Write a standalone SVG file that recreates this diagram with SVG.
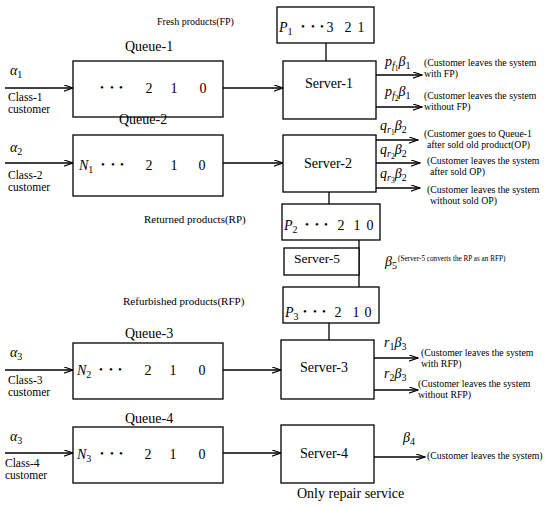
<svg xmlns="http://www.w3.org/2000/svg" width="550" height="507" viewBox="0 0 550 507">
<defs>
<style>
text{font-family:"Liberation Serif","Times New Roman",serif;fill:#000}
.box{fill:#fff;stroke:#000;stroke-width:1.3}
.ln{fill:none;stroke:#000;stroke-width:1.3}
.ar{fill:none;stroke:#000;stroke-width:1.3;marker-end:url(#ah)}
.ttl{font-size:14px}
.srv{font-size:14px;text-anchor:middle}
.num{font-size:14px;text-anchor:middle}
.dot{font-size:11px;text-anchor:middle}
.cls{font-size:11.5px}
.lbl{font-size:11px}
.note{font-size:9.8px}
.m{font-size:14px;font-style:italic}
.s{font-size:10px;font-style:normal}
.si{font-size:10px;font-style:italic}
.ss{font-size:7.5px;font-style:normal}
</style>
<marker id="ah" viewBox="0 0 10 7" markerWidth="10" markerHeight="7" refX="9.5" refY="3.5" orient="auto" markerUnits="userSpaceOnUse">
<path d="M0,0.3 L9.5,3.5 L0,6.7" fill="none" stroke="#000" stroke-width="1.2"/>
</marker>
</defs>
<rect x="0" y="0" width="550" height="507" fill="#fff"/>

<g id="connectors">
<line class="ar" x1="5" y1="88" x2="73" y2="88"/>
<line class="ar" x1="223" y1="88" x2="283" y2="88"/>
<line class="ln" x1="326" y1="43" x2="326" y2="61"/>
<line class="ar" x1="376" y1="75" x2="422" y2="75"/>
<line class="ar" x1="376" y1="107" x2="422" y2="107"/>
<line class="ar" x1="5" y1="163" x2="73" y2="163"/>
<line class="ar" x1="223" y1="163" x2="283" y2="163"/>
<line class="ar" x1="376" y1="140" x2="418" y2="140"/>
<line class="ar" x1="376" y1="163" x2="420" y2="163"/>
<line class="ar" x1="376" y1="188" x2="420" y2="188"/>
<line class="ln" x1="329" y1="192" x2="329" y2="204"/>
<line class="ln" x1="359" y1="237" x2="359" y2="287"/>
<line class="ln" x1="329" y1="323" x2="329" y2="340"/>
<line class="ar" x1="5" y1="370" x2="73" y2="370"/>
<line class="ar" x1="223" y1="370" x2="281" y2="370"/>
<line class="ar" x1="374" y1="358" x2="418" y2="358"/>
<line class="ar" x1="374" y1="390" x2="418" y2="390"/>
<line class="ar" x1="5" y1="453" x2="73" y2="453"/>
<line class="ar" x1="223" y1="453" x2="281" y2="453"/>
<line class="ar" x1="374" y1="457" x2="425" y2="457"/>
</g>

<g id="fp-store">
<rect class="box" x="277" y="7" width="97" height="36"/>
<text class="m" x="279" y="32">P<tspan class="s" dy="3">1</tspan></text>
<text class="dot" x="303 313 322" y="30">•••</text>
<text class="num" x="330 348 361" y="32">321</text>
<text class="lbl" x="157" y="25" style="font-size:10px">Fresh products(FP)</text>
</g>

<g id="queue-1">
<rect class="box" x="73" y="61" width="150" height="56"/>
<text class="ttl" x="125" y="51">Queue-1</text>
<text class="dot" x="102 112 121" y="91">•••</text>
<text class="num" x="149 174 203" y="93">210</text>
<text class="m" x="10" y="75">α<tspan class="s" dy="3">1</tspan></text>
<text class="cls" x="8" y="101">Class-1</text>
<text class="cls" x="8" y="113">customer</text>
</g>

<g id="server-1">
<rect class="box" x="283" y="61" width="93" height="58"/>
<text class="srv" x="329" y="88">Server-1</text>
<text class="m" x="385" y="66">p<tspan class="si" dy="3">f</tspan><tspan class="ss" dy="2">1</tspan><tspan dy="-5">β</tspan><tspan class="s" dy="3">1</tspan></text>
<text class="m" x="385" y="96">p<tspan class="si" dy="3">f</tspan><tspan class="ss" dy="2">2</tspan><tspan dy="-5">β</tspan><tspan class="s" dy="3">1</tspan></text>
<text class="note" x="424" y="66">(Customer leaves the system</text>
<text class="note" x="424" y="77">with FP)</text>
<text class="note" x="424" y="99">(Customer leaves the system</text>
<text class="note" x="424" y="110">without FP)</text>
</g>

<g id="queue-2">
<rect class="box" x="73" y="135" width="150" height="61"/>
<text class="ttl" x="119" y="124">Queue-2</text>
<text class="m" x="79" y="170">N<tspan class="s" dy="3">1</tspan></text>
<text class="dot" x="103 113 122" y="168">•••</text>
<text class="num" x="149 174 202" y="170">210</text>
<text class="m" x="10" y="152">α<tspan class="s" dy="3">2</tspan></text>
<text class="cls" x="8" y="179">Class-2</text>
<text class="cls" x="8" y="191">customer</text>
</g>

<g id="server-2">
<rect class="box" x="283" y="135" width="93" height="57"/>
<text class="srv" x="328" y="168">Server-2</text>
<text class="m" x="380" y="130">q<tspan class="si" dy="3">r</tspan><tspan class="ss" dy="2">1</tspan><tspan dy="-5">β</tspan><tspan class="s" dy="3">2</tspan></text>
<text class="m" x="380" y="154">q<tspan class="si" dy="3">r</tspan><tspan class="ss" dy="2">2</tspan><tspan dy="-5">β</tspan><tspan class="s" dy="3">2</tspan></text>
<text class="m" x="380" y="178">q<tspan class="si" dy="3">r</tspan><tspan class="ss" dy="2">3</tspan><tspan dy="-5">β</tspan><tspan class="s" dy="3">2</tspan></text>
<text class="note" x="424" y="137">(Customer goes to Queue-1</text>
<text class="note" x="427" y="148">after sold old product(OP)</text>
<text class="note" x="427" y="164">(Customer leaves the system</text>
<text class="note" x="430" y="175">after sold OP)</text>
<text class="note" x="427" y="193">(Customer leaves the system</text>
<text class="note" x="430" y="204">without sold OP)</text>
</g>

<g id="rp-store">
<rect class="box" x="282" y="204" width="98" height="36"/>
<text class="m" x="284" y="230">P<tspan class="s" dy="3">2</tspan></text>
<text class="dot" x="307 317 326" y="228">•••</text>
<text class="num" x="341 357 370" y="230">210</text>
<text class="lbl" x="144" y="223">Returned products(RP)</text>
</g>

<g id="server-5">
<rect class="box" x="284" y="248" width="75" height="27"/>
<text class="srv" x="317" y="263" style="font-size:13.5px">Server-5</text>
<text class="m" x="385" y="266">β<tspan class="s" dy="3">5</tspan></text>
<text x="398" y="261" style="font-size:7.2px">(Server-5 converts the RP as an RFP)</text>
</g>

<g id="rfp-store">
<rect class="box" x="283" y="287" width="96" height="36"/>
<text class="m" x="285" y="317">P<tspan class="s" dy="3">3</tspan></text>
<text class="dot" x="305 315 324" y="315">•••</text>
<text class="num" x="338 356 368" y="317">210</text>
<text class="lbl" x="123" y="305">Refurbished products(RFP)</text>
</g>

<g id="queue-3">
<rect class="box" x="73" y="343" width="150" height="56"/>
<text class="ttl" x="125" y="338">Queue-3</text>
<text class="m" x="77" y="375">N<tspan class="s" dy="3">2</tspan></text>
<text class="dot" x="101 111 120" y="373">•••</text>
<text class="num" x="148 173 202" y="375">210</text>
<text class="m" x="10" y="357">α<tspan class="s" dy="3">3</tspan></text>
<text class="cls" x="8" y="384">Class-3</text>
<text class="cls" x="8" y="396">customer</text>
</g>

<g id="server-3">
<rect class="box" x="281" y="340" width="93" height="59"/>
<text class="srv" x="324" y="372">Server-3</text>
<text class="m" x="384" y="347">r<tspan class="s" dy="3">1</tspan><tspan dy="-3">β</tspan><tspan class="s" dy="3">3</tspan></text>
<text class="m" x="384" y="378">r<tspan class="s" dy="3">2</tspan><tspan dy="-3">β</tspan><tspan class="s" dy="3">3</tspan></text>
<text class="note" x="421" y="356">(Customer leaves the system</text>
<text class="note" x="421" y="367">with RFP)</text>
<text class="note" x="418" y="387">(Customer leaves the system</text>
<text class="note" x="418" y="398">without RFP)</text>
</g>

<g id="queue-4">
<rect class="box" x="73" y="427" width="150" height="56"/>
<text class="ttl" x="125" y="423">Queue-4</text>
<text class="m" x="77" y="459">N<tspan class="s" dy="3">3</tspan></text>
<text class="dot" x="102 112 121" y="457">•••</text>
<text class="num" x="148 173 202" y="459">210</text>
<text class="m" x="10" y="441">α<tspan class="s" dy="3">3</tspan></text>
<text class="cls" x="5" y="467">Class-4</text>
<text class="cls" x="5" y="479">customer</text>
</g>

<g id="server-4">
<rect class="box" x="281" y="425" width="93" height="58"/>
<text class="srv" x="324" y="458">Server-4</text>
<text class="m" x="403" y="442">β<tspan class="s" dy="3">4</tspan></text>
<text class="note" x="427" y="459">(Customer leaves the system)</text>
<text class="ttl" x="297" y="498">Only repair service</text>
</g>
</svg>
